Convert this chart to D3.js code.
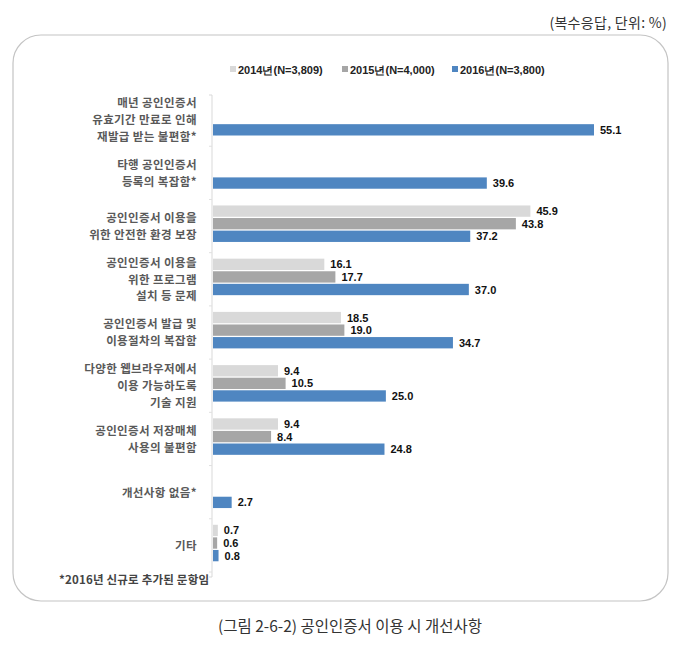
<!DOCTYPE html>
<html><head><meta charset="utf-8">
<script src="https://cdn.jsdelivr.net/npm/d3@7"></script>
<style>body{margin:0;background:#fff}</style>
</head><body><svg id="c" width="700" height="648"></svg>
<script>
const categories = [
  ["매년 공인인증서","유효기간 만료로 인해","재발급 받는 불편함*"],
  ["타행 공인인증서","등록의 복잡함*"],
  ["공인인증서 이용을","위한 안전한 환경 보장"],
  ["공인인증서 이용을","위한 프로그램","설치 등 문제"],
  ["공인인증서 발급 및","이용절차의 복잡함"],
  ["다양한 웹브라우저에서","이용 가능하도록","기술 지원"],
  ["공인인증서 저장매체","사용의 불편함"],
  ["개선사항 없음*"],
  ["기타"]
];
const seriesNames = ["2014년(N=3,809)","2015년(N=4,000)","2016년(N=3,800)"];
const v2014 = [null, null, 45.9, 16.1, 18.5, 9.4, 9.4, null, 0.7];
const v2015 = [null, null, 43.8, 17.7, 19.0, 10.5, 8.4, null, 0.6];
const v2016 = [55.1, 39.6, 37.2, 37.0, 34.7, 25.0, 24.8, 2.7, 0.8];
const colors = ["#d9d9d9","#a6a6a6","#4f86c1"];
const unitText = "(복수응답, 단위: %)";
const footnote = "*2016년 신규로 추가된 문항임";
const caption = "(그림 2-6-2) 공인인증서 이용 시 개선사항";

const series = [v2014, v2015, v2016];
const svg = d3.select("#c");
const kfont = "'Noto Sans CJK KR','Noto Sans',sans-serif";
const nfont = "'Liberation Sans',Arial,sans-serif";

// frame
svg.append("rect").attr("x",13).attr("y",35).attr("width",655).attr("height",566)
  .attr("rx",28).attr("ry",28).attr("fill","none").attr("stroke","#c4c4c4").attr("stroke-width",1.2);

svg.append("text").attr("x",667).attr("y",28).attr("text-anchor","end")
  .attr("font-family",kfont).attr("font-size",14).attr("letter-spacing",0.3).attr("fill","#333").text(unitText);

const idx = d3.range(categories.length);
const x = d3.scaleLinear().domain([0, 55.1]).range([213, 594]);
const y = d3.scaleBand().domain(idx).range([93, 572]).paddingInner(0).paddingOuter(0);
const yi = d3.scaleBand().domain([0,1,2]).range([6, 42.5]).paddingInner(0.1);

// axis
const axis = d3.axisLeft(y).tickSize(3).tickFormat("");
const gAxis = svg.append("g").attr("transform","translate(212,0)").call(axis);
gAxis.select(".domain").attr("stroke","#d9d9d9").attr("d","M-3,95H0V577H-3").attr("fill","none");
gAxis.selectAll(".tick line").attr("stroke","#e0e0e0").attr("transform",`translate(0,${y.bandwidth()/2})`);

// bars
series.forEach((vals, s) => {
  const g = svg.append("g");
  idx.forEach(i => {
    const v = vals[i];
    if (v == null) return;
    const yy = y(i) + yi(s);
    g.append("rect").attr("x", x(0)).attr("y", yy).attr("width", x(v) - x(0))
      .attr("height", yi.bandwidth()).attr("fill", colors[s]);
    g.append("text").attr("x", x(v) + 6).attr("y", yy + yi.bandwidth()/2 + 4)
      .attr("font-family", nfont).attr("font-weight","bold").attr("font-size",11)
      .attr("fill","#111").text(v.toFixed(1));
  });
});

// category labels
idx.forEach(i => {
  const lines = categories[i];
  const cy = y(i) + 6 + 18 + 3;
  const lh = 16.8;
  const t = svg.append("text").attr("text-anchor","end")
    .attr("font-family",kfont).attr("font-weight","bold").attr("font-size",11.5)
    .attr("letter-spacing",0.4).attr("fill","#595959");
  lines.forEach((ln, k) => {
    t.append("tspan").attr("x",197)
     .attr("y", cy + (k - (lines.length-1)/2)*lh + 4).text(ln);
  });
});

// legend
const legX = [230, 342, 452];
seriesNames.forEach((n, s) => {
  svg.append("rect").attr("x",legX[s]).attr("y",66).attr("width",6).attr("height",6).attr("fill",colors[s]);
  svg.append("text").attr("x",legX[s]+8).attr("y",73.5)
    .attr("font-family",nfont).attr("font-weight","bold").attr("font-size",11)
    .attr("fill","#222").text(n);
});

svg.append("text").attr("x",59).attr("y",584).attr("font-family",kfont).attr("font-weight","bold")
  .attr("font-size",11.5).attr("letter-spacing",0.2).attr("fill","#444").text(footnote);

svg.append("text").attr("x",350).attr("y",632).attr("text-anchor","middle")
  .attr("font-family",kfont).attr("font-size",15.5).attr("fill","#333").text(caption);
</script>
</body></html>
